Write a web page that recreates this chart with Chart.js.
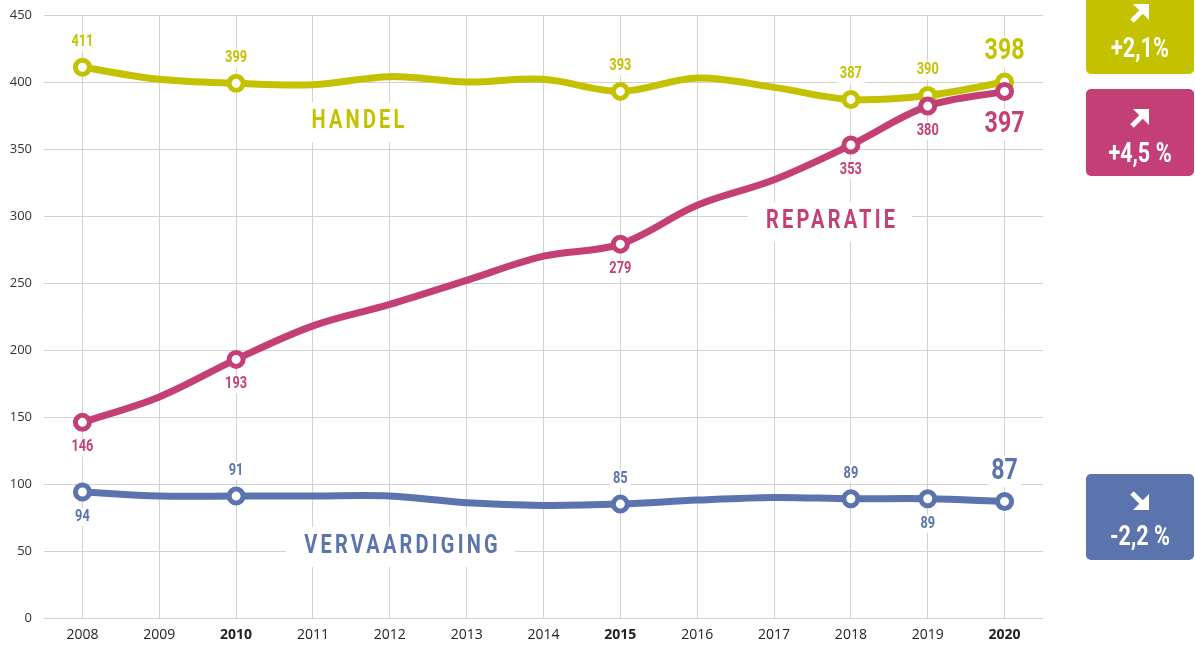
<!DOCTYPE html>
<html>
<head>
<meta charset="utf-8">
<script src="https://cdn.jsdelivr.net/npm/chart.js@4/dist/chart.umd.min.js"></script>
<style>
  html, body { margin: 0; padding: 0; background: #fff; }
  #wrap { width: 1195px; height: 648px; }
</style>
</head>
<body>
<div id="wrap"><canvas id="chart"></canvas></div>
<script>
const years = ['2008', '2009', '2010', '2011', '2012', '2013', '2014', '2015', '2016', '2017', '2018', '2019', '2020'];
const boldYears = ['2010', '2015', '2020'];
const handel = [411, 402, 399, 398, 404, 400, 402, 393, 403, 396, 387, 390, 400];
const reparatie = [146, 165, 193, 218, 234, 252, 270, 279, 308, 327, 353, 382, 393];
const vervaardiging = [94, 91, 91, 91, 91, 86, 84, 85, 88, 90, 89, 89, 87];
const markedYears = ['2008', '2010', '2015', '2018', '2019', '2020'];
const handelLabels = [411, 399, 393, 387, 390, 398];
const reparatieLabels = [146, 193, 279, 353, 380, 397];
const vervaardigingLabels = [94, 91, 85, 89, 89, 87];
const handelSides = ['up', 'up', 'up', 'up', 'up', 'up'];
const reparatieSides = ['down', 'down', 'down', 'down', 'down', 'down'];
const vervaardigingSides = ['down', 'up', 'up', 'up', 'down', 'up'];
const seriesNames = ['HANDEL', 'REPARATIE', 'VERVAARDIGING'];
const changes = ['+2,1%', '+4,5 %', '-2,2 %'];

const GREEN = '#c4c200';
const PINK = '#c43f75';
const BLUE = '#5b74ae';
const FONT = "Roboto, 'Noto Sans', sans-serif";
const SQ = 0.8; // horizontal squeeze to get a condensed look

function radii() {
  return years.map(y => markedYears.includes(y) ? 7 : 0);
}

function series(label, data, color, order, labels, sides) {
  return {
    label: label,
    data: data,
    borderColor: color,
    borderWidth: 7,
    backgroundColor: color,
    pointRadius: radii(),
    pointHoverRadius: radii(),
    pointBorderWidth: 5,
    pointBackgroundColor: '#fff',
    pointBorderColor: color,
    tension: 0.35,
    order: order,
    valueLabels: labels,
    sides: sides,
    fill: false
  };
}

function narrowText(ctx, txt, x, y) {
  ctx.save();
  ctx.translate(x, y);
  ctx.scale(SQ, 1);
  ctx.fillText(txt, 0, 0);
  ctx.restore();
}

// value labels and series names, with a white patch behind them
const labelPlugin = {
  id: 'labels',
  afterDatasetsDraw(chart) {
    const ctx = chart.ctx;
    const xs = chart.scales.x, ys = chart.scales.y;
    ctx.save();
    ctx.textAlign = 'center';
    ctx.textBaseline = 'middle';
    chart.data.datasets.forEach((ds, di) => {
      const meta = chart.getDatasetMeta(di);
      let k = 0;
      years.forEach((yr, i) => {
        if (!markedYears.includes(yr)) return;
        const pt = meta.data[i];
        const side = ds.sides[k];
        const last = i == years.length - 1;
        const size = last ? 29 : 16;
        const off = last ? (side == 'up' ? 30 : 33) : 25;
        const y = side == 'up' ? pt.y - off : pt.y + off;
        ctx.font = 'bold ' + size + 'px ' + FONT;
        const txt = String(ds.valueLabels[k]);
        const w = ctx.measureText(txt).width * SQ;
        ctx.fillStyle = '#fff';
        ctx.fillRect(pt.x - w / 2 - 3, y - size / 2 - 1, w + 6, size + 2);
        ctx.fillStyle = ds.borderColor;
        narrowText(ctx, txt, pt.x, y);
        k++;
      });
    });

    const names = [
      [seriesNames[0], 3.58, 370, GREEN],
      [seriesNames[1], 9.73, 295.5, PINK],
      [seriesNames[2], 4.14, 53, BLUE]
    ];
    ctx.font = 'bold 25px ' + FONT;
    ctx.letterSpacing = '4px';
    names.forEach(n => {
      const x = xs.getPixelForValue(n[1]);
      const y = ys.getPixelForValue(n[2]);
      const w = ctx.measureText(n[0]).width * SQ;
      ctx.fillStyle = '#fff';
      ctx.fillRect(x - w / 2 - 16, y - 20, w + 32, 40);
      ctx.fillStyle = n[3];
      narrowText(ctx, n[0], x + 2, y);
    });
    ctx.restore();
  },
  afterDraw(chart) {
    const ctx = chart.ctx;
    const boxes = [[-6, 74, GREEN, 1, 19, 56], [89, 176, PINK, 1, 29, 66], [474, 560, BLUE, -1, 27, 64]];
    ctx.save();
    boxes.forEach((b, i) => {
      const x0 = 1086, x1 = 1194;
      ctx.fillStyle = b[2];
      ctx.beginPath();
      ctx.roundRect(x0, b[0], x1 - x0, b[1] - b[0], 5);
      ctx.fill();
      const cx = (x0 + x1) / 2;
      drawArrow(ctx, cx, b[0] + b[4], b[3]);
      ctx.fillStyle = '#fff';
      ctx.font = 'bold 27px ' + FONT;
      ctx.textAlign = 'center';
      ctx.textBaseline = 'middle';
      narrowText(ctx, changes[i], cx, b[0] + b[5]);
    });
    ctx.restore();
  }
};

function drawArrow(ctx, cx, cy, dir) {
  // dir 1 = up right, -1 = down right
  const s = 8;
  ctx.save();
  ctx.translate(cx, cy);
  if (dir < 0) ctx.scale(1, -1);
  ctx.strokeStyle = '#fff';
  ctx.fillStyle = '#fff';
  ctx.lineWidth = 5;
  ctx.beginPath();
  ctx.moveTo(-s, s);
  ctx.lineTo(s - 4, -s + 4);
  ctx.stroke();
  ctx.beginPath();
  ctx.moveTo(s + 1, -s - 1);
  ctx.lineTo(s + 1, s - 1);
  ctx.lineTo(-s + 1, -s - 1);
  ctx.closePath();
  ctx.fill();
  ctx.restore();
}

new Chart(document.getElementById('chart'), {
  type: 'line',
  data: {
    labels: years,
    datasets: [
      series('Reparatie', reparatie, PINK, 0, reparatieLabels, reparatieSides),
      series('Handel', handel, GREEN, 1, handelLabels, handelSides),
      series('Vervaardiging', vervaardiging, BLUE, 2, vervaardigingLabels, vervaardigingSides)
    ]
  },
  options: {
    responsive: true,
    maintainAspectRatio: false,
    animation: false,
    layout: { padding: { top: 0, right: 152, left: 0, bottom: 0 } },
    plugins: { legend: { display: false }, tooltip: { enabled: false } },
    scales: {
      x: {
        offset: true,
        border: { display: false },
        grid: { offset: false, color: '#d2d2d2', drawTicks: false },
        ticks: {
          padding: 9,
          color: '#222',
          font: c => ({ family: "'Open Sans', 'Noto Sans', sans-serif", size: 14, weight: boldYears.includes(years[c.index]) ? 'bold' : 'normal' })
        },
        afterFit: s => { s.height = 30; }
      },
      y: {
        min: 0,
        max: 450,
        border: { display: false },
        grid: { color: '#d2d2d2', drawTicks: false },
        ticks: {
          stepSize: 50,
          padding: 12,
          color: '#333',
          font: { family: "'Open Sans', 'Noto Sans', sans-serif", size: 13 }
        },
        afterFit: s => { s.width = 44; s.paddingTop = 15; s.paddingBottom = 0; }
      }
    }
  },
  plugins: [labelPlugin]
});
</script>
</body>
</html>
